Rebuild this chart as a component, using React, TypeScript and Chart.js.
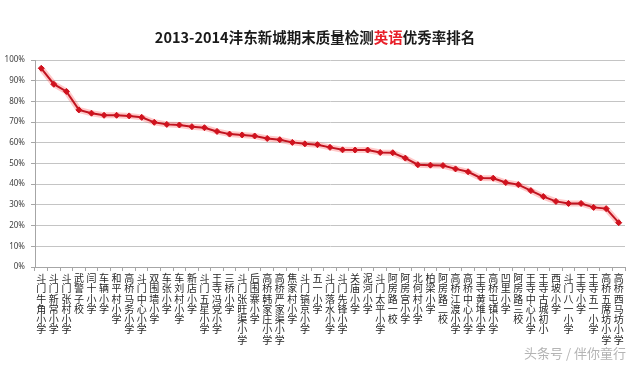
import React, { useEffect, useRef } from "react";
import { Chart, registerables } from "chart.js";

Chart.register(...registerables);

const schools: string[] = [
  "斗门牛角小学", "斗门新常小学", "斗门张村小学", "武警子校", "闫十小学", "车辆小学",
  "和平村小学", "高桥马务小学", "斗门中心小学", "双围墙小学", "车张小学", "车刘村小学",
  "新店小学", "斗门五星小学", "王寺冯党小学", "三桥小学", "斗门张旺渠小学", "后围寨小学",
  "高桥韩家庄小学", "高桥严家渠小学", "焦家村小学", "斗门镐京小学", "五一小学", "斗门落水小学",
  "斗门先锋小学", "关庙小学", "泥河小学", "斗门太平小学", "阿房路一校", "阿房宫小学",
  "北何村小学", "柏梁小学", "阿房路二校", "高桥江渡小学", "高桥中心小学", "王寺黄堆小学",
  "高桥屯镇小学", "凹里小学", "阿房路三校", "王寺中心小学", "王寺古城初小", "西坡小学",
  "斗门八一小学", "王寺小学", "王寺五一小学", "高桥五席坊小学", "高桥西马坊小学",
];

const excellentRate: number[] = [
  96.0, 88.3, 84.8, 75.9, 74.3, 73.3, 73.3, 73.0, 72.3, 69.9,
  68.9, 68.6, 67.8, 67.3, 65.5, 64.2, 63.8, 63.3, 62.1, 61.5,
  60.2, 59.5, 59.1, 57.8, 56.6, 56.5, 56.5, 55.3, 55.2, 52.6,
  49.4, 49.2, 49.0, 47.4, 46.0, 43.0, 42.9, 40.8, 39.8, 36.9,
  34.0, 31.7, 30.7, 30.7, 28.8, 28.2, 21.4,
];

const yTicks: number[] = [0, 10, 20, 30, 40, 50, 60, 70, 80, 90, 100];

export default function App() {
  const canvasRef = useRef<HTMLCanvasElement | null>(null);

  useEffect(() => {
    document.body.style.margin = "0";
    const canvas = canvasRef.current;
    if (!canvas) return;
    const chart = new Chart(canvas, {
      type: "line",
      data: {
        labels: schools.map((s) => Array.from(s)),
        datasets: [
          {
            data: excellentRate,
            borderColor: "#c01420",
            borderWidth: 2,
            pointStyle: "rectRot",
            pointRadius: 3,
            pointBackgroundColor: "#d0121e",
            pointBorderColor: "#d0121e",
            pointBorderWidth: 1,
            tension: 0,
            order: 0,
          },
          {
            data: excellentRate,
            borderColor: "rgba(255,60,60,0.28)",
            borderWidth: 6,
            pointRadius: 0,
            tension: 0,
            order: 1,
          },
        ],
      },
      options: {
        animation: false,
        responsive: false,
        maintainAspectRatio: false,
        layout: { padding: { left: 0, right: 15, top: 60, bottom: 0 } },
        plugins: {
          legend: { display: false },
          tooltip: { enabled: false },
          title: { display: false },
        },
        scales: {
          x: {
            type: "category",
            offset: true,
            afterFit: (scale: any) => {
              scale.height = 102;
            },
            grid: {
              offset: true,
              drawOnChartArea: false,
              drawTicks: true,
              tickLength: 4,
              color: "#a6a6a6",
            },
            border: { display: true, color: "#a6a6a6", width: 1 },
            ticks: {
              autoSkip: false,
              maxRotation: 0,
              minRotation: 0,
              padding: 2,
              color: "#262626",
              font: { family: "'Noto Sans CJK SC'", size: 10, lineHeight: 1.03 },
            },
          },
          y: {
            min: 0,
            max: 100,
            afterFit: (scale: any) => {
              scale.width = 35;
            },
            afterBuildTicks: (scale: any) => {
              scale.ticks = yTicks.map((v) => ({ value: v }));
            },
            grid: {
              color: "#c4c4c4",
              lineWidth: 1,
              drawTicks: true,
              tickLength: 4,
              tickColor: "#a6a6a6",
            },
            border: { display: true, color: "#a6a6a6", width: 1 },
            ticks: {
              padding: 6,
              color: "#404040",
              font: { family: "'Noto Sans'", size: 8 },
              callback: (v: any) => v + "%",
            },
          },
        },
      },
    });
    return () => chart.destroy();
  }, []);

  return (
    <div
      style={{
        position: "fixed",
        left: 0,
        top: 0,
        width: 640,
        height: 369,
        background: "#ffffff",
        overflow: "hidden",
      }}
    >
      <canvas ref={canvasRef} width={640} height={369} style={{ position: "absolute", left: 0, top: 0 }} />
      <div
        style={{
          position: "absolute",
          left: 0,
          width: 630,
          top: 27,
          textAlign: "center",
          fontFamily: "'Noto Sans CJK SC'",
          fontWeight: 700,
          fontSize: 14.5,
          lineHeight: "20px",
          color: "#1a1a1a",
          whiteSpace: "nowrap",
        }}
      >
        2013-2014沣东新城期末质量检测<span style={{ color: "#e8202a" }}>英语</span>优秀率排名
      </div>
      <div
        style={{
          position: "absolute",
          right: 14,
          top: 344,
          fontFamily: "'Noto Sans CJK SC'",
          fontSize: 13,
          lineHeight: "18px",
          color: "#b4b4b4",
          whiteSpace: "nowrap",
        }}
      >
        头条号 / 伴你童行
      </div>
    </div>
  );
}
